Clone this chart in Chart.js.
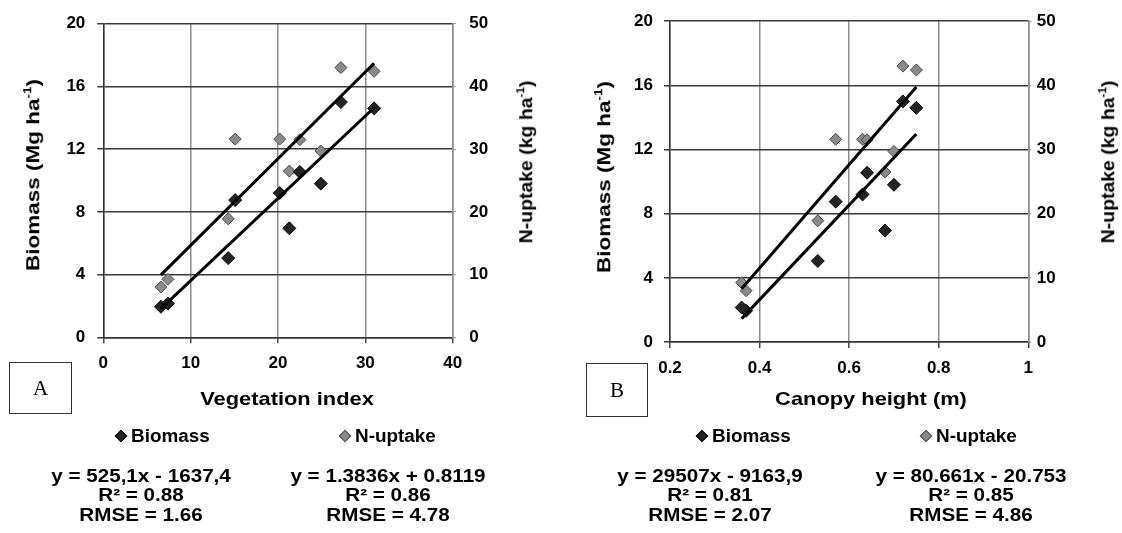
<!DOCTYPE html>
<html>
<head>
<meta charset="utf-8">
<script src="https://cdn.jsdelivr.net/npm/chart.js@4.4.1/dist/chart.umd.min.js"></script>
<style>
body{margin:0;background:#fff;}
#page{position:relative;width:1122px;height:533px;overflow:hidden;font-family:"Liberation Sans",Arial,sans-serif;font-weight:bold;color:#000;}
.panel{position:absolute;top:0;width:561px;height:533px;}
.txt{position:absolute;white-space:nowrap;line-height:1;}
.txt sup{font-size:0.6em;vertical-align:0.7em;}
.box{position:absolute;border:1px solid #333;font-family:"Liberation Serif","Times New Roman",serif;font-weight:normal;font-size:21px;display:flex;align-items:center;justify-content:center;}
.dia{position:absolute;width:7px;height:7px;transform:translate(-50%,-50%) rotate(45deg);}
</style>
</head>
<body>
<div id="page">
  <div class="panel" style="left:0"><canvas id="chartA"></canvas></div>
  <div class="panel" style="left:561px"><canvas id="chartB"></canvas></div>
</div>
<script>
// valores (10 parcelas, mesma ordem nos dois painéis)
var vegIndex = [6.6, 7.4, 14.3, 15.1, 20.2, 21.3, 22.5, 24.9, 27.2, 31.0];
var canopyHeight = [0.37, 0.36, 0.53, 0.57, 0.63, 0.68, 0.64, 0.70, 0.72, 0.75];
var biomass = [1.95, 2.15, 5.05, 8.75, 9.2, 6.95, 10.55, 9.8, 15.0, 14.6];
var nUptake = [8.0, 9.25, 18.9, 31.6, 31.6, 26.5, 31.5, 29.7, 43.0, 42.4];

// retas de ajuste [inclinação, intercepto] (biomassa em Mg, eq. original em kg)
var fitBiomassVI = [0.5251, -1.6374];
var fitNVI = [1.3836, 0.8119];
var fitBiomassH = [29.507, -9.1639];
var fitNH = [80.661, -20.753];

// eixos
var xTicksVI = [0, 10, 20, 30, 40];
var xTicksH = [0.2, 0.4, 0.6, 0.8, 1];
var yTicksBiomass = [0, 4, 8, 12, 16, 20];
var yTicksN = [0, 10, 20, 30, 40, 50];

// textos
var seriesNames = ['Biomass', 'N-uptake'];
var titleBiomass = ['Biomass (Mg ha', '-1', ')'];
var titleN = ['N-uptake (kg ha', '-1', ')'];
var xTitles = ['Vegetation index', 'Canopy height (m)'];
var panelLetters = ['A', 'B'];
var eqVI = [['y = 525,1x - 1637,4', 'R² = 0.88', 'RMSE = 1.66'], ['y = 1.3836x + 0.8119', 'R² = 0.86', 'RMSE = 4.78']];
var eqH = [['y = 29507x - 9163,9', 'R² = 0.81', 'RMSE = 2.07'], ['y = 80.661x - 20.753', 'R² = 0.85', 'RMSE = 4.86']];

var FONT = "'Liberation Sans', Arial, sans-serif";
var page = document.getElementById('page');

function points(xs, ys) {
    return xs.map(function (v, i) { return {x: v, y: ys[i]}; });
}

function fitLine(xs, fit) {
    var lo = Math.min.apply(null, xs), hi = Math.max.apply(null, xs);
    return [{x: lo, y: fit[0] * lo + fit[1]}, {x: hi, y: fit[0] * hi + fit[1]}];
}

function setTicks(arr) {
    return function (s) { s.ticks = arr.map(function (v) { return {value: v}; }); };
}

function makeChart(id, xs, xTicks, fitB, fitN, lay) {
    var tickFont = {family: FONT, size: 17, weight: 'bold'};
    return new Chart(document.getElementById(id), {
        type: 'scatter',
        data: {
            datasets: [
                {data: fitLine(xs, fitN), yAxisID: 'y2', showLine: true, borderColor: '#000', borderWidth: 3, pointRadius: 0, order: 0},
                {data: fitLine(xs, fitB), yAxisID: 'y', showLine: true, borderColor: '#000', borderWidth: 3, pointRadius: 0, order: 0},
                {label: seriesNames[1], data: points(xs, nUptake), yAxisID: 'y2', pointStyle: 'rectRot', pointRadius: 6,
                    backgroundColor: '#8a8a8a', borderColor: '#4a4a4a', borderWidth: 1, order: 2},
                {label: seriesNames[0], data: points(xs, biomass), yAxisID: 'y', pointStyle: 'rectRot', pointRadius: 6.5,
                    backgroundColor: '#242424', borderColor: '#0a0a0a', borderWidth: 1, order: 1}
            ]
        },
        options: {
            responsive: true,
            maintainAspectRatio: false,
            animation: false,
            layout: {padding: {top: lay.top, left: 0, right: 0, bottom: 0}},
            plugins: {legend: {display: false}, tooltip: {enabled: false}},
            scales: {
                x: {
                    type: 'linear', min: xTicks[0], max: xTicks[xTicks.length - 1],
                    afterBuildTicks: setTicks(xTicks),
                    ticks: {font: tickFont, color: '#000', padding: 10,
                        callback: function (v) { return String(Number(v.toFixed(1))); }},
                    grid: {color: '#8c8c8c', lineWidth: 1.5, tickLength: 6, tickColor: '#444'},
                    border: {color: '#333', width: 1.5},
                    afterFit: function (s) { s.height = 533 - lay.bottom; }
                },
                y: {
                    position: 'left', min: 0, max: 20,
                    afterBuildTicks: setTicks(yTicksBiomass),
                    ticks: {font: tickFont, color: '#000', padding: lay.yPad},
                    grid: {color: '#3a3a3a', lineWidth: 1.5, tickLength: 6, tickColor: '#3a3a3a'},
                    border: {color: '#333', width: 1.5},
                    afterFit: function (s) { s.width = lay.left; }
                },
                y2: {
                    position: 'right', min: 0, max: 50,
                    afterBuildTicks: setTicks(yTicksN),
                    ticks: {font: tickFont, color: '#000', padding: lay.y2Pad},
                    grid: {drawOnChartArea: false, color: '#8c8c8c', tickLength: 3, tickColor: '#8c8c8c'},
                    border: {color: '#8c8c8c', width: 1.5},
                    afterFit: function (s) { s.width = 561 - lay.right; }
                }
            }
        }
    });
}

makeChart('chartA', vegIndex, xTicksVI, fitBiomassVI, fitNVI,
    {top: 23.3, bottom: 337.3, left: 103.3, right: 452.7, yPad: 12, y2Pad: 13.5});
makeChart('chartB', canopyHeight, xTicksH, fitBiomassH, fitNH,
    {top: 20.7, bottom: 342, left: 109, right: 467.3, yPad: 11, y2Pad: 5.5});

// textos fora do gráfico
function addText(parts, x, y, size, rot, sx) {
    var d = document.createElement('div');
    d.className = 'txt';
    d.style.fontSize = size + 'px';
    if (typeof parts === 'string') parts = [parts];
    d.appendChild(document.createTextNode(parts[0]));
    if (parts.length > 1) {
        var s = document.createElement('sup');
        s.textContent = parts[1];
        d.appendChild(s);
        d.appendChild(document.createTextNode(parts[2]));
    }
    d.style.left = x + 'px';
    d.style.top = y + 'px';
    d.style.transform = 'translate(-50%,-50%) rotate(' + (rot || 0) + 'deg) scaleX(' + (sx || 1) + ')';
    page.appendChild(d);
    return d;
}

function addLegend(x, y, name, fill, edge) {
    var dm = document.createElement('div');
    dm.className = 'dia';
    dm.style.left = x + 'px';
    dm.style.top = y + 'px';
    dm.style.background = fill;
    dm.style.border = '1px solid ' + edge;
    page.appendChild(dm);
    var t = document.createElement('div');
    t.className = 'txt';
    t.style.fontSize = '18px';
    t.style.left = (x + 10) + 'px';
    t.style.top = (y - 9) + 'px';
    t.style.transform = 'scaleX(1.05)';
    t.style.transformOrigin = 'left center';
    t.textContent = name;
    page.appendChild(t);
}

function addBox(letter, x, y, w, h) {
    var b = document.createElement('div');
    b.className = 'box';
    b.style.left = x + 'px';
    b.style.top = y + 'px';
    b.style.width = w + 'px';
    b.style.height = h + 'px';
    b.textContent = letter;
    page.appendChild(b);
}

function addEquation(lines, cx) {
    var ys = [477, 496, 516];
    lines.forEach(function (l, i) { addText(l, cx, ys[i], 17.5, 0, 1.18); });
}

// painel A
addText(titleBiomass, 32, 175, 18, -90, 1.25);
addText(titleN, 525, 162, 18, -90, 1.08);
addText(xTitles[0], 287, 398, 19, 0, 1.15);
addBox(panelLetters[0], 9, 362, 61, 50);
addLegend(121, 436, seriesNames[0], '#242424', '#0a0a0a');
addLegend(345, 436, seriesNames[1], '#8a8a8a', '#4a4a4a');
addEquation(eqVI[0], 141);
addEquation(eqVI[1], 388);

// painel B
addText(titleBiomass, 603, 177, 18, -90, 1.25);
addText(titleN, 1107, 162, 18, -90, 1.08);
addText(xTitles[1], 871, 398, 19, 0, 1.15);
addBox(panelLetters[1], 586, 363, 60, 52);
addLegend(702, 436, seriesNames[0], '#242424', '#0a0a0a');
addLegend(926, 436, seriesNames[1], '#8a8a8a', '#4a4a4a');
addEquation(eqH[0], 710);
addEquation(eqH[1], 971);
</script>
</body>
</html>
